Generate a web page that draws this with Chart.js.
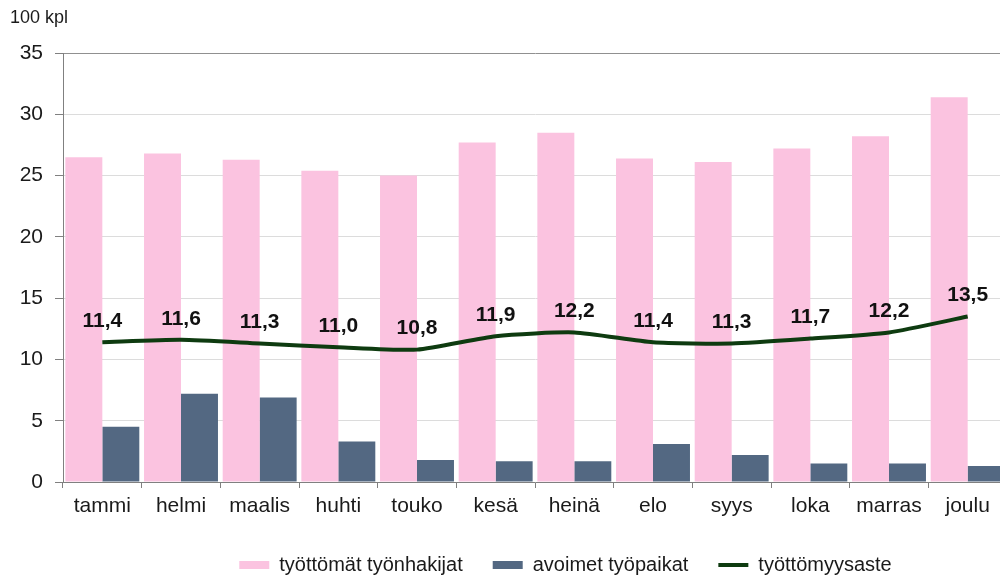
<!DOCTYPE html>
<html><head><meta charset="utf-8">
<script src="https://cdn.jsdelivr.net/npm/chart.js@4.4.1/dist/chart.umd.min.js"></script>
<style>
html,body{margin:0;padding:0;background:#fff;overflow:hidden;}
#wrap{position:relative;width:1010px;height:577px;}
</style></head><body>
<div id="wrap"><canvas id="c" width="1010" height="577"></canvas></div>
<script>
const categories = ['tammi','helmi','maalis','huhti','touko','kesä','heinä','elo','syys','loka','marras','joulu'];
const jobSeekers = [26.5,26.8,26.3,25.4,25.0,27.7,28.5,26.4,26.1,27.2,28.2,31.4];
const vacancies = [4.5,7.2,6.9,3.3,1.8,1.7,1.7,3.1,2.2,1.5,1.5,1.3];
const unemploymentRate = [11.4,11.6,11.3,11.0,10.8,11.9,12.2,11.4,11.3,11.7,12.2,13.5];
const yMin = 0, yMax = 35, yStep = 5;
const seriesNames = ['työttömät työnhakijat','avoimet työpaikat','työttömyysaste'];
const unitLabel = '100 kpl';

const FONT = "'Liberation Sans', Arial, sans-serif";
const fmt = v => v.toFixed(1).replace('.', ',');

const lineLabels = {
  id: 'lineLabels',
  afterDatasetsDraw(chart) {
    const meta = chart.getDatasetMeta(2);
    const ctx = chart.ctx;
    ctx.save();
    ctx.font = "bold 21px " + FONT;
    ctx.fillStyle = '#111';
    ctx.textAlign = 'center';
    ctx.textBaseline = 'middle';
    meta.data.forEach((pt, i) => {
      ctx.fillText(fmt(unemploymentRate[i]), pt.x, pt.y - 21);
    });
    ctx.restore();
  }
};

const legendPlace = {
  id: 'legendPlace',
  afterLayout(chart) {
    const l = chart.legend;
    const dx = 57;
    l.left += dx; l.right += dx;
    l.top = 525; l.bottom = 577; l.height = 52;
  }
};

new Chart(document.getElementById('c'), {
  type: 'bar',
  data: {
    labels: categories,
    datasets: [
      { label: seriesNames[0], data: jobSeekers, backgroundColor: '#fbc3e0', borderWidth: 0, order: 1, pointStyle: 'rect' },
      { label: seriesNames[1], data: vacancies, backgroundColor: '#536882', borderWidth: 0, order: 1, pointStyle: 'rect' },
      { label: seriesNames[2], data: unemploymentRate, type: 'line', borderColor: '#0e3b10', backgroundColor: '#0e3b10',
        borderWidth: 4, pointRadius: 0, tension: 0.2, order: 0, pointStyle: 'line' }
    ]
  },
  options: {
    responsive: false,
    animation: false,
    layout: { padding: { left: 10, right: 3, top: 0, bottom: 0 } },
    datasets: { bar: { categoryPercentage: 0.94, barPercentage: 1.0 } },
    scales: {
      x: {
        grid: { display: true, drawOnChartArea: false, drawTicks: true, tickLength: 6, color: '#808080', offset: true },
        border: { display: true, color: '#808080', width: 1 },
        ticks: { font: { family: FONT, size: 21 }, color: '#1a1a1a', padding: 6, maxRotation: 0, autoSkip: false },
        afterFit(scale) { scale.height = 35; }
      },
      y: {
        min: yMin, max: yMax,
        grid: { color: ctx => (ctx.tick && ctx.tick.value === yMax) ? '#909090' : '#dcdcdc', tickColor: '#808080', tickLength: 8, drawTicks: true },
        border: { display: true, color: '#808080', width: 1 },
        ticks: { stepSize: yStep, font: { family: FONT, size: 21 }, color: '#1a1a1a', padding: 12 },
        afterFit(scale) { scale.width = 53; }
      }
    },
    plugins: {
      title: { display: true, text: unitLabel, align: 'start', color: '#1a1a1a', font: { family: FONT, size: 18, weight: 'normal' }, padding: { top: 7, bottom: 24.4 } },
      legend: {
        position: 'bottom',
        labels: { usePointStyle: true, pointStyleWidth: 30, boxHeight: 8, padding: 30, color: '#1a1a1a', font: { family: FONT, size: 20 },
          sort: (a, b) => a.datasetIndex - b.datasetIndex }
      },
      tooltip: { enabled: false }
    }
  },
  plugins: [lineLabels, legendPlace]
});
</script>
</body></html>
